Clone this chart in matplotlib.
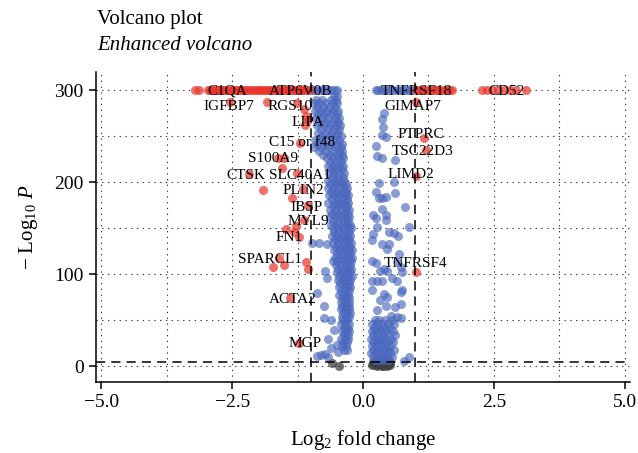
import matplotlib
matplotlib.use("Agg")
import matplotlib.pyplot as plt
from matplotlib.ticker import MultipleLocator

plt.rcParams['font.family'] = ['Liberation Serif', 'DejaVu Serif']
plt.rcParams['mathtext.fontset'] = 'custom'
plt.rcParams['mathtext.rm'] = 'Liberation Serif'
plt.rcParams['mathtext.it'] = 'Liberation Serif:italic'

# ---------------- data (log2 fold change, -log10 P) ----------------
# NS (grey)
ns_lfc = [0.18, 0.22, 0.26, 0.30, 0.34, 0.38, 0.42, 0.46, 0.50, 0.20, 0.28, 0.36,
          0.44, 0.24, 0.32, 0.40, 0.48, 0.52, 0.19, 0.27, 0.35, 0.43, 0.51, 0.31,
          0.39, 0.47, -0.60, -0.45]
ns_logp = [1.0, 3.0, 0.5, 2.5, 4.0, 1.2, 3.2, 0.8, 2.2, 4.2, 4.5, 0.3,
           4.6, 1.8, 0.9, 2.8, 3.8, 1.5, 2.6, 3.6, 2.0, 1.6, 4.1, 4.4,
           0.6, 2.4, 3.0, 0.6]

# p-value only (blue) - left band
blue_left_lfc = [
    -0.98, -0.93, -0.87, -0.80, -0.74, -0.68, -0.62, -0.56, -0.50,
    -0.55, -0.50,
    -0.90, -0.78, -0.62, -0.52,
    -0.94, -0.85, -0.70, -0.58, -0.49,
    -0.88, -0.76, -0.65, -0.53,
    -0.92, -0.81, -0.69, -0.57, -0.48,
    -0.86, -0.74, -0.61, -0.50,
    -0.90, -0.78, -0.66, -0.54, -0.46,
    -0.84, -0.71, -0.58, -0.47,
    -0.88, -0.75, -0.63, -0.52, -0.44,
    -0.80, -0.67, -0.55, -0.45,
    -0.86, -0.72, -0.60, -0.48,
    -0.78, -0.64, -0.52, -0.43,
    -0.92, -0.83, -0.70, -0.57, -0.45,
    -0.88, -0.74, -0.61, -0.49, -0.41,
    -0.93, -0.80, -0.66, -0.54, -0.42,
    -0.85, -0.71, -0.58, -0.46, -0.40,
    -0.76, -0.63, -0.50, -0.41,
    -0.69, -0.57, -0.45, -0.39,
    -0.64, -0.53, -0.43,
    -0.66, -0.56, -0.46, -0.38,
    -0.62, -0.51, -0.41,
    -0.65, -0.55, -0.45, -0.37,
    -0.60, -0.49, -0.39,
    -0.66, -0.56, -0.46, -0.36,
    -0.63, -0.52, -0.42, -0.33,
    -0.67, -0.57, -0.47, -0.37, -0.30,
    -0.61, -0.51, -0.41, -0.32,
    -0.65, -0.55, -0.45, -0.35, -0.29,
    -0.60, -0.50, -0.40, -0.31,
    -0.66, -0.54, -0.44, -0.34, -0.28,
    -0.58, -0.48, -0.38, -0.30,
    -0.64, -0.53, -0.43, -0.33, -0.27,
    -0.59, -0.49, -0.39, -0.29,
    -0.63, -0.52, -0.42, -0.32, -0.26,
    -0.57, -0.47, -0.37, -0.28,
    -0.61, -0.51, -0.41, -0.31, -0.25,
    -0.58, -0.48, -0.38, -0.29, -0.23,
    -0.55, -0.45, -0.35, -0.26,
    -0.60, -0.50, -0.40, -0.30, -0.24,
    -0.54, -0.44, -0.34, -0.26,
    -0.57, -0.47, -0.37, -0.28, -0.23,
    -0.52, -0.42, -0.32, -0.25,
    -0.56, -0.46, -0.36, -0.27, -0.22,
    -0.50, -0.40, -0.31, -0.24,
    -0.54, -0.44, -0.34, -0.26, -0.22,
    -0.49, -0.39, -0.30, -0.23,
    -0.52, -0.42, -0.33, -0.25,
    -0.47, -0.38, -0.29, -0.23,
    -0.50, -0.41, -0.32, -0.24,
    -0.45, -0.36, -0.28, -0.22,
    -0.48, -0.39, -0.30, -0.24,
    -0.44, -0.35, -0.27,
    -0.46, -0.37, -0.29, -0.24,
    -0.42, -0.34, -0.27,
    -0.45, -0.36, -0.28,
    -0.41, -0.33, -0.26,
    -0.43, -0.35, -0.27,
    -0.40, -0.32, -0.26,
    -0.42, -0.34, -0.27,
    -0.39, -0.31, -0.25,
    -0.41, -0.33, -0.27,
    -0.38, -0.30,
    -0.42, -0.34, -0.27,
    -0.37, -0.29,
    -0.40, -0.32, -0.26,
    -0.36, -0.29,
    -0.43, -0.35, -0.28,
    -0.38, -0.31,
    -0.41, -0.33,
    -0.37, -0.30,
    # scattered
    -0.98, -0.85, -0.68, -0.72, -0.68, -0.58, -0.87, -0.75, -0.75, -0.62,
    -0.56, -0.66, -0.62, -0.87, -0.80, -0.72, -0.66, -0.47, -0.50,
]
blue_left_logp = [
    300, 300, 300, 300, 300, 300, 300, 300, 300,
    294, 294,
    290, 290, 290, 290,
    286, 286, 286, 286, 286,
    282, 282, 282, 282,
    278, 278, 278, 278, 278,
    274, 274, 274, 274,
    270, 270, 270, 270, 270,
    266, 266, 266, 266,
    262, 262, 262, 262, 262,
    258, 258, 258, 258,
    254, 254, 254, 254,
    250, 250, 250, 250,
    246, 246, 246, 246, 246,
    242, 242, 242, 242, 242,
    238, 238, 238, 238, 238,
    234, 234, 234, 234, 234,
    230, 230, 230, 230,
    226, 226, 226, 226,
    222, 222, 222,
    218, 218, 218, 218,
    214, 214, 214,
    210, 210, 210, 210,
    206, 206, 206,
    202, 202, 202, 202,
    198, 198, 198, 198,
    194, 194, 194, 194, 194,
    190, 190, 190, 190,
    186, 186, 186, 186, 186,
    182, 182, 182, 182,
    178, 178, 178, 178, 178,
    174, 174, 174, 174,
    170, 170, 170, 170, 170,
    166, 166, 166, 166,
    162, 162, 162, 162, 162,
    158, 158, 158, 158,
    154, 154, 154, 154, 154,
    150, 150, 150, 150, 150,
    146, 146, 146, 146,
    142, 142, 142, 142, 142,
    138, 138, 138, 138,
    134, 134, 134, 134, 134,
    130, 130, 130, 130,
    126, 126, 126, 126, 126,
    122, 122, 122, 122,
    118, 118, 118, 118, 118,
    114, 114, 114, 114,
    110, 110, 110, 110,
    106, 106, 106, 106,
    102, 102, 102, 102,
    98, 98, 98, 98,
    94, 94, 94, 94,
    90, 90, 90,
    86, 86, 86, 86,
    82, 82, 82,
    78, 78, 78,
    74, 74, 74,
    70, 70, 70,
    66, 66, 66,
    62, 62, 62,
    58, 58, 58,
    54, 54, 54,
    50, 50,
    46, 46, 46,
    42, 42,
    38, 38, 38,
    34, 34,
    30, 30, 30,
    26, 26,
    22, 22,
    18, 18,
    134, 134, 133, 104, 96, 115, 80, 66, 52, 50,
    39, 30, 20, 11, 12, 13, 10, 15, 23,
]

# p-value only (blue) - right band
blue_right_lfc = [
    0.24, 0.29, 0.34, 0.40, 0.46, 0.52, 0.58, 0.64, 0.70, 0.76, 0.82, 0.88, 0.93,
    0.40, 0.37, 0.39, 0.37, 0.43, 0.24, 0.27, 0.37, 0.62, 0.30, 0.59,
    0.24, 0.30, 0.37, 0.43, 0.62, 0.37, 0.20, 0.24, 0.43, 0.43, 0.27, 0.20,
    0.49, 0.59, 0.66, 0.88, 0.81, 0.18, 0.37, 0.49, 0.46, 0.69, 0.18, 0.24,
    0.65, 0.33, 0.40, 0.46, 0.72, 0.75, 0.18, 0.27, 0.37, 0.56, 0.65, 0.72,
    0.75, 0.40, 0.46, 0.18, 0.33, 0.43, 0.27, 0.62, 0.72, 0.53, 0.65, 0.72,
    0.78, 0.87,
    0.22, 0.31, 0.42, 0.55,
    0.18, 0.27, 0.36, 0.47, 0.60,
    0.21, 0.30, 0.40, 0.51,
    0.17, 0.25, 0.34, 0.44, 0.57,
    0.20, 0.29, 0.38, 0.48, 0.62,
    0.16, 0.24, 0.33, 0.42, 0.53,
    0.19, 0.28, 0.37, 0.46, 0.58,
    0.17, 0.25, 0.34, 0.43, 0.52,
    0.20, 0.29, 0.38, 0.47, 0.60,
    0.16, 0.24, 0.33, 0.42, 0.51,
    0.19, 0.28, 0.37, 0.46, 0.56,
    0.22, 0.31, 0.40, 0.49,
]
blue_right_logp = [
    300, 300, 300, 300, 300, 300, 300, 300, 300, 300, 300, 300, 300,
    275, 269, 260, 251, 249, 240, 229, 226, 224, 199, 200,
    189, 183, 183, 184, 188, 171, 164, 161, 164, 159, 151, 144,
    146, 145, 142, 151, 173, 137, 133, 133, 128, 122, 115, 112,
    113, 104, 106, 104, 108, 102, 93, 93, 93, 96, 93, 81,
    83, 79, 75, 83, 72, 66, 61, 64, 68, 55, 54, 52,
    5.5, 10,
    50, 50, 50, 50,
    46, 46, 46, 46, 46,
    42, 42, 42, 42,
    38, 38, 38, 38, 38,
    34, 34, 34, 34, 34,
    30, 30, 30, 30, 30,
    26, 26, 26, 26, 26,
    22, 22, 22, 22, 22,
    18, 18, 18, 18, 18,
    14, 14, 14, 14, 14,
    10, 10, 10, 10, 10,
    7, 7, 7, 7,
]

# p-value and log2 FC (red)
red_lfc = [
    -3.20, -3.13, -2.97, -2.93, -2.88, -2.84, -2.79, -2.75, -2.70, -2.66, -2.61,
    -2.55, -2.50, -2.46, -2.41, -2.37, -2.31, -2.27, -2.22, -2.18, -2.12, -2.08,
    -2.03, -1.98, -1.94, -1.89, -1.85, -1.80, -1.75, -1.71, -1.66, -1.62, -1.57,
    -1.52, -1.48, -1.43, -1.39, -1.34, -1.30, -1.25, -1.21, -1.16, -1.12, -1.07,
    -1.03,
    1.01, 1.06, 1.12, 1.17, 1.23, 1.29, 1.34, 1.40, 1.46, 1.52, 1.58, 1.64, 1.70,
    2.28, 2.37, 2.47, 2.58, 2.69, 2.80, 2.93, 3.12,
    -2.54, -1.83, -1.26, -1.12, -1.08, -1.05, -1.10, -1.20, -1.62, -1.50, -1.55,
    -2.17, -1.27, -1.91, -1.15, -1.36, -1.05, -1.13, -1.28, -1.47, -1.32, -1.22,
    -1.72, -1.51, -1.60, -1.09, -1.05, -1.40, -1.22,
    1.02, 1.17, 1.21, 1.01, 1.02,
]
red_logp = [
    300, 300, 300, 300, 300, 300, 300, 300, 300, 300, 300,
    300, 300, 300, 300, 300, 300, 300, 300, 300, 300, 300,
    300, 300, 300, 300, 300, 300, 300, 300, 300, 300, 300,
    300, 300, 300, 300, 300, 300, 300, 300, 300, 300, 300,
    300,
    300, 300, 300, 300, 300, 300, 300, 300, 300, 300, 300, 300, 300,
    300, 300, 300, 300, 300, 300, 300, 300,
    287, 287, 286, 280, 272, 268, 262, 243, 226, 226, 216,
    209, 210, 192, 193, 183, 175, 159, 153, 149, 146, 141,
    108, 110, 118, 113, 106, 74, 25,
    287, 248, 235, 207, 103,
]

# gene labels and where their text sits
genes = ['C1QA', 'ATP6V0B', 'IGFBP7', 'RGS10', 'LIPA', 'C15 or f48', 'S100A9',
         'CTSK', 'SLC40A1', 'PLIN2', 'IBSP', 'MYL9', 'FN1', 'SPARCL1', 'ACTA2',
         'MGP', 'TNFRSF18', 'GIMAP7', 'PTPRC', 'TSC22D3', 'LIMD2', 'TNFRSF4', 'CD52']
label_x = [-2.59, -1.19, -2.57, -1.39, -1.06, -1.16, -1.71, -2.24, -1.20, -1.14,
           -1.08, -1.04, -1.42, -1.77, -1.35, -1.10, 1.02, 0.95, 1.10, 1.14, 0.91,
           1.00, 2.74]
label_y = [299, 299, 283, 283, 265, 243, 226, 208, 208, 191, 173, 157, 140, 116,
           73, 25, 299, 283, 252, 234, 209, 112, 299]

fc_cut = 1.0
p_cut = 5.0

# ---------------- figure ----------------
fig = plt.figure(figsize=(6.38, 4.53), dpi=100)
ax = fig.add_axes([0.1505, 0.157, 0.837, 0.684])

ms = 42
ax.scatter(ns_lfc, ns_logp, s=ms, color='#404040', alpha=0.75, linewidths=0, zorder=2)
ax.scatter(blue_left_lfc, blue_left_logp, s=ms, color='#4A67BE', alpha=0.65,
           linewidths=0, zorder=2)
ax.scatter(blue_right_lfc, blue_right_logp, s=ms, color='#4A67BE', alpha=0.65,
           linewidths=0, zorder=2)
ax.scatter(red_lfc, red_logp, s=ms, color='#E8332A', alpha=0.7, linewidths=0, zorder=3)

for g, lx, ly in zip(genes, label_x, label_y):
    ax.text(lx, ly, g, fontsize=11, ha='center', va='center', color='black', zorder=5)

ax.axvline(-fc_cut, color='black', linestyle=(0, (6, 4)), linewidth=1.1, zorder=4)
ax.axvline(fc_cut, color='black', linestyle=(0, (6, 4)), linewidth=1.1, zorder=4)
ax.axhline(p_cut, color='black', linestyle=(0, (6, 4)), linewidth=1.1, zorder=4)

ax.set_xlim(-5.1, 5.1)
ax.set_ylim(-17, 320)
ax.xaxis.set_minor_locator(MultipleLocator(1.25))
ax.yaxis.set_minor_locator(MultipleLocator(50))
ax.set_xticks([-5.0, -2.5, 0.0, 2.5, 5.0])
ax.set_xticklabels(['\u22125.0', '\u22122.5', '0.0', '2.5', '5.0'])
ax.set_yticks([0, 100, 200, 300])
ax.set_yticklabels(['0', '100', '200', '300'])

ax.grid(which='both', color='#333333', linestyle=(0, (1.2, 4)), linewidth=0.8, zorder=1)
ax.set_axisbelow(True)
for s in ['top', 'right']:
    ax.spines[s].set_visible(False)
for s in ['left', 'bottom']:
    ax.spines[s].set_linewidth(1.1)
ax.tick_params(which='major', direction='out', length=5, width=1.1, labelsize=14,
               colors='black', pad=4)
ax.tick_params(which='minor', length=0)

ax.set_xlabel('Log$_2$ fold change', fontsize=15, labelpad=12)
ax.set_ylabel('\u2212 Log$_{10}$ $P$', fontsize=15, labelpad=10)

fig.text(0.152, 0.958, 'Volcano plot', fontsize=15, ha='left', va='center')
fig.text(0.152, 0.900, 'Enhanced volcano', fontsize=15, ha='left', va='center',
         style='italic')

fig.savefig('out.png', dpi=100)
